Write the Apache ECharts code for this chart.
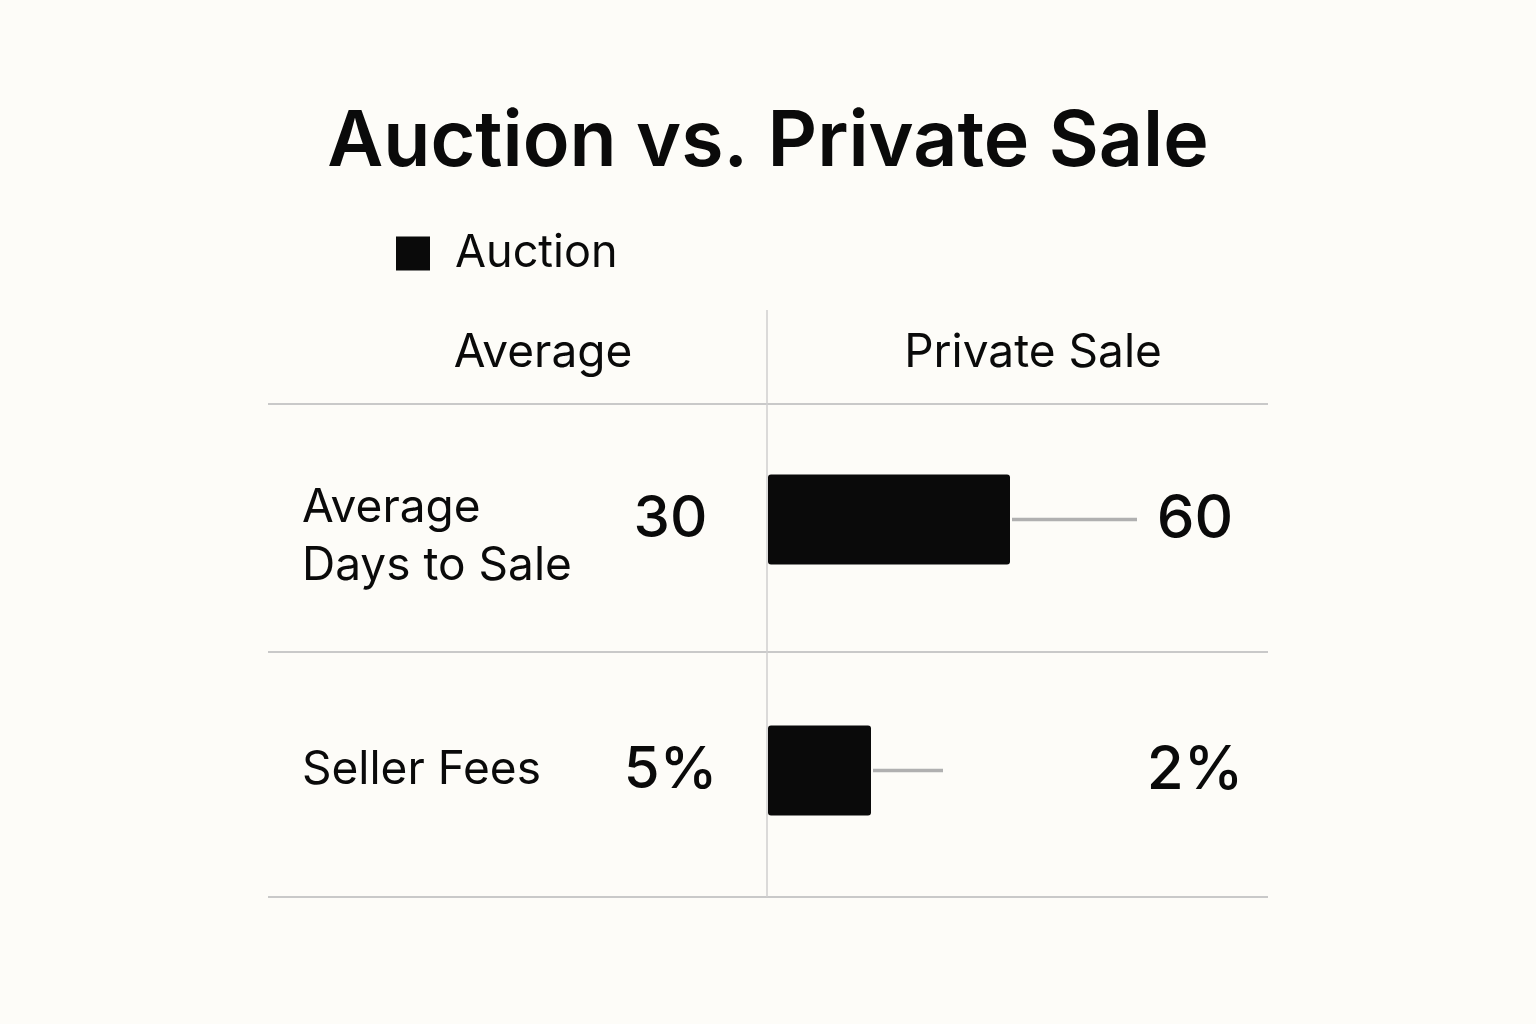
<!DOCTYPE html>
<html>
<head>
<meta charset="utf-8">
<script src="https://cdn.jsdelivr.net/npm/echarts@6/dist/echarts.min.js"></script>
<style>
html,body{margin:0;padding:0;background:#fdfcf8;}
#chart{width:1536px;height:1024px;}
</style>
</head>
<body>
<div id="chart"></div>
<script>
const categories = ['Average\nDays to Sale', 'Seller Fees'];
const auctionLabels = ['30', '5%'];
const privateLabels = ['60', '2%'];
const barLengths = [48.4, 20.6];      // bar extent (axis units)
const whiskerEnds = [73.8, 35];       // grey line end (axis units)
const columnHeaders = ['Average', 'Private Sale'];

const FONT = 'Inter, "Noto Sans", sans-serif';
const chart = echarts.init(document.getElementById('chart'));

const option = {
  backgroundColor: '#fdfcf8',
  animation: false,
  title: {
    text: 'Auction vs. Private Sale',
    left: 'center',
    top: 99,
    textStyle: { fontFamily: FONT, fontSize: 77, fontWeight: 600, color: '#0a0a0a' }
  },
  legend: {
    data: ['Auction'],
    left: 391,
    top: 226,
    icon: 'rect',
    itemWidth: 34,
    itemHeight: 34,
    textStyle: { fontFamily: FONT, fontSize: 45, color: '#0a0a0a', padding: [0, 0, 0, 20] }
  },
  grid: { left: 268, right: 268, top: 394, bottom: 128 },
  xAxis: {
    type: 'value', min: -100, max: 100,
    show: false
  },
  yAxis: {
    type: 'category',
    inverse: true,
    data: categories,
    axisLine: { show: false, onZero: false },
    axisTick: { show: false },
    splitLine: { show: false },
    axisLabel: {
      align: 'left', margin: -34,
      formatter: function (v, i) {
        const lines = v.split('\n').map(s => '{r|' + s + '}');
        return (lines.length > 1 ? '{sp| }\n' : '') + lines.join('\n');
      },
      rich: {
        r: { fontFamily: FONT, fontSize: 46, color: '#0a0a0a', lineHeight: 58, align: 'left' },
        sp: { fontSize: 10, lineHeight: 35, align: 'left' }
      }
    }
  },
  graphic: [
    { type: 'line', shape: { x1: 268, y1: 404, x2: 1268, y2: 404 }, style: { stroke: '#c9c9c9', lineWidth: 2 } },
    { type: 'line', shape: { x1: 268, y1: 652, x2: 1268, y2: 652 }, style: { stroke: '#c9c9c9', lineWidth: 2 } },
    { type: 'line', shape: { x1: 268, y1: 897, x2: 1268, y2: 897 }, style: { stroke: '#c9c9c9', lineWidth: 2 } },
    { type: 'line', shape: { x1: 767, y1: 310, x2: 767, y2: 897 }, style: { stroke: '#cfcfcf', lineWidth: 1.5 } },
    { type: 'text', x: 543, y: 353, style: { text: columnHeaders[0], fontFamily: FONT, fontSize: 46, fill: '#0a0a0a', textAlign: 'center', textVerticalAlign: 'middle' } },
    { type: 'text', x: 1033, y: 353, style: { text: columnHeaders[1], fontFamily: FONT, fontSize: 46, fill: '#0a0a0a', textAlign: 'center', textVerticalAlign: 'middle' } }
  ],
  series: [
    {
      name: 'Auction',
      type: 'bar',
      data: barLengths,
      barWidth: 90,
      itemStyle: { color: '#0a0a0a', borderRadius: 3 },
      z: 3
    },
    {
      name: 'whisker',
      type: 'custom',
      data: barLengths.map((b, i) => [b, whiskerEnds[i], i]),
      renderItem: function (params, api) {
        const p1 = api.coord([api.value(0), api.value(2)]);
        const p2 = api.coord([api.value(1), api.value(2)]);
        return {
          type: 'line',
          shape: { x1: p1[0] + 2, y1: p1[1], x2: p2[0], y2: p2[1] },
          style: { stroke: '#b0b0b0', lineWidth: 3.5 }
        };
      },
      z: 2
    },
    {
      name: 'auctionValues',
      type: 'scatter',
      symbolSize: 0,
      itemStyle: { opacity: 1, color: '#0a0a0a' },
      data: auctionLabels.map((t, i) => [-19.5, i]),
      label: {
        show: true, position: 'inside',
        formatter: p => auctionLabels[p.dataIndex],
        fontFamily: FONT, fontSize: 58, fontWeight: 500, color: '#0a0a0a'
      }
    },
    {
      name: 'privateValues',
      type: 'scatter',
      symbolSize: 0,
      itemStyle: { opacity: 1, color: '#0a0a0a' },
      data: privateLabels.map((t, i) => [85.4, i]),
      label: {
        show: true, position: 'inside',
        formatter: p => privateLabels[p.dataIndex],
        fontFamily: FONT, fontSize: 60, fontWeight: 500, color: '#0a0a0a'
      }
    }
  ]
};
chart.setOption(option);
</script>
</body>
</html>
